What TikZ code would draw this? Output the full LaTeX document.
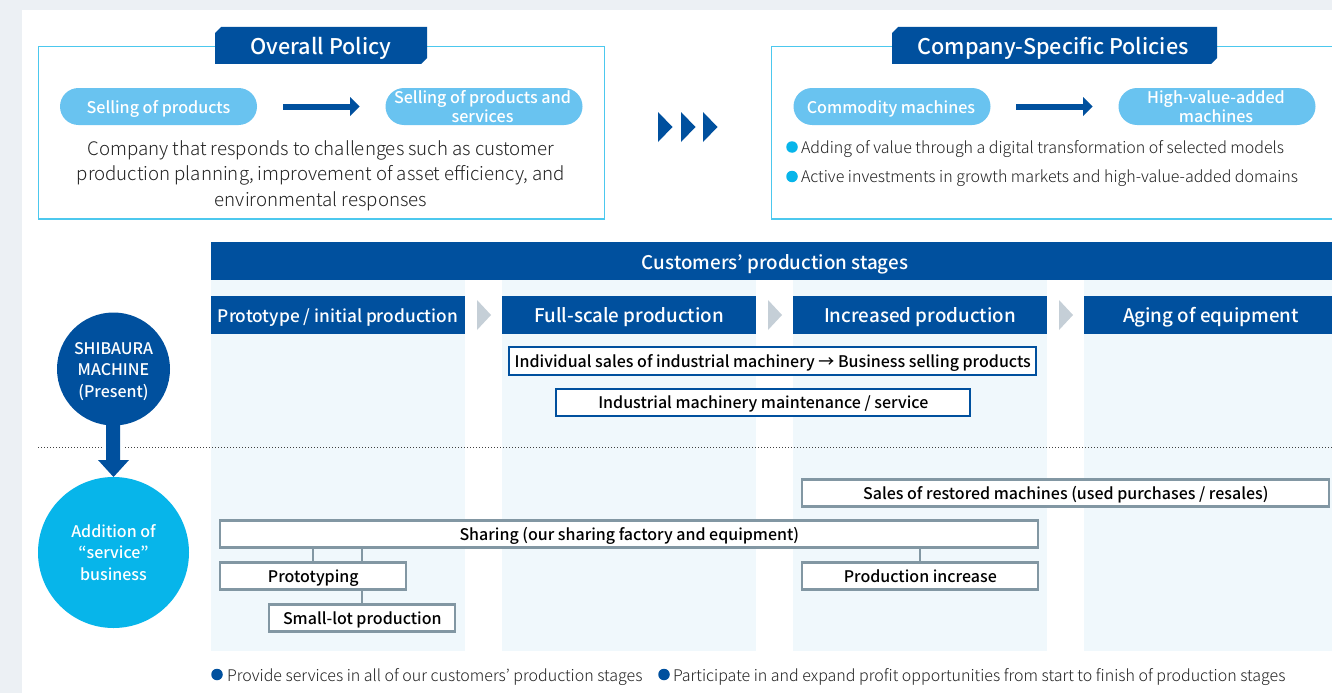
\documentclass[tikz,border=0pt]{standalone}
\usepackage{fontspec}
\setmainfont{Noto Sans CJK JP Light}
\newfontfamily\med{Noto Sans CJK JP Medium}
\usetikzlibrary{calc}
\definecolor{navy}{HTML}{00509E}
\definecolor{cyanb}{HTML}{4CC8EE}
\definecolor{pill}{HTML}{69C3F0}
\definecolor{pagebg}{HTML}{ECF0F4}
\definecolor{colbg}{HTML}{F0F8FC}
\definecolor{tri}{HTML}{C5CFD7}
\definecolor{svc}{HTML}{07B5EA}
\definecolor{greyb}{HTML}{8297A3}
\definecolor{ink}{HTML}{222222}
\tikzset{
 every node/.style={inner sep=0pt,outer sep=0pt},
 framebox/.style={draw=cyanb,line width=1.5pt,fill=white},
 tabshape/.style={fill=navy},
 tabtext/.style={text=white,text height=17.5pt,text depth=0pt,font=\fontsize{21.6}{25}\selectfont\med},
 pillbox/.style={fill=pill,rounded corners=18.5pt,minimum width=197pt,minimum height=37pt,text=white,align=center,font=\fontsize{16.1}{19}\selectfont\med},
 pillone/.style={pillbox,text height=14pt,text depth=0pt},
 flow/.style={draw=navy,line width=6pt},
 flowhead/.style={fill=navy},
 body/.style={text=ink,align=center,font=\fontsize{18.65}{25.5}\selectfont},
 note/.style={text=ink,anchor=west,text height=12pt,text depth=0pt,font=\fontsize{16}{19}\selectfont},
 dot/.style={circle,minimum size=11.5pt},
 colhead/.style={fill=navy,text=white,minimum width=254pt,minimum height=38pt,text height=15.5pt,text depth=0pt,font=\fontsize{18.8}{22}\selectfont\med},
 bluebox/.style={draw=navy,line width=2pt,fill=white,text=black,text height=12pt,text depth=0pt,font=\fontsize{16}{19}\selectfont\med},
 greybox/.style={draw=greyb,line width=2.3pt,fill=white,text=black,text height=12pt,text depth=0pt,font=\fontsize{16}{19}\selectfont\med},
 link/.style={draw=greyb,line width=2.3pt},
 bubble/.style={circle},
 bubbletext/.style={text=white,align=center,font=\fontsize{16}{21.5}\selectfont\med},
}
\begin{document}
\begin{tikzpicture}[x=1pt,y=-1pt]
\useasboundingbox (0,0) rectangle (1332,693);
\fill[pagebg] (0,0) rectangle (1332,693);
\fill[white] (22,10) rectangle (1332,693);
% top frames
\draw[framebox] (38.5,46.5) rectangle (604.5,219);
\draw[framebox] (1340,46.5) -- (771.5,46.5) -- (771.5,219) -- (1340,219);
\fill[tabshape] (221,27) -- (427,27) -- (427,58) -- (421,64) -- (215,64) -- (215,33) -- cycle;
\node[tabtext] (overall) at (321,46) {Overall Policy};
\fill[tabshape] (898,27) -- (1217,27) -- (1217,58) -- (1211,64) -- (892,64) -- (892,33) -- cycle;
\node[tabtext] (specific) at (1053,46) {Company-Specific Policies};
% pills
\node[pillone] (p1) at (158.5,106.5) {Selling of products};
\node[pillbox] (p2) at (484,106.5) {\hspace*{-3pt}Selling of products and\\\hspace*{-3pt}services};
\node[pillone] (p3) at (892,106.5) {\hspace*{-2pt}Commodity machines};
\node[pillbox] (p4) at (1217,106.5) {\hspace*{-2pt}High-value-added\\\hspace*{-2pt}machines};
\coordinate (a1s) at (283,106.5); \coordinate (a1e) at (350,106.5);
\draw[flow] (a1s) -- (a1e);
\fill[flowhead] (350,97) -- (359.5,106.5) -- (350,116) -- cycle;
\coordinate (a2s) at (1016,106.5); \coordinate (a2e) at (1083,106.5);
\draw[flow] (a2s) -- (a2e);
\fill[flowhead] (1083,97) -- (1092.5,106.5) -- (1083,116) -- cycle;
\node[body] (resp) at (321,175.5) {Company that responds to challenges such as customer\\production planning, improvement of asset efficiency, and\\environmental responses};
\node[dot,fill=svc] (d1) at (792,147) {};
\node[note] (n1) at (801,147) {Adding of value through a digital transformation of selected models};
\node[dot,fill=svc] (d2) at (792,176.5) {};
\node[note] (n2) at (801,176.5) {Active investments in growth markets and high-value-added domains};
% triple chevrons
\foreach \x in {658,681,703}{\fill[navy] (\x,112) -- (\x+14.5,127) -- (\x,142) -- cycle;}
% stages
\foreach \x in {211,502,793,1084}{\fill[colbg] (\x,280) rectangle (\x+254,651);}
\node[fill=navy,text=white,minimum width=1121pt,minimum height=38pt,text height=17.5pt,text depth=0pt,anchor=north west,font=\fontsize{18.8}{20}\selectfont\med] (banner) at (211,242) {\hspace{7pt}Customers’ production stages};
\node[colhead,anchor=north west,font=\fontsize{17.3}{22}\selectfont\med] (c1) at (211,296) {Prototype / initial production};
\node[colhead,anchor=north west] (c2) at (502,296) {Full-scale production};
\node[colhead,anchor=north west] (c3) at (793,296) {Increased production};
\node[colhead,anchor=north west] (c4) at (1084,296) {Aging of equipment};
\foreach \x in {477,768,1059}{\fill[tri] (\x,300) -- (\x+14,315) -- (\x,330) -- cycle;}
% divider
\draw[black!75,line width=1pt,dotted] (38,447) -- (1332,447);
% circles
\fill[white] (103,440) rectangle (123,454);
\fill[navy] (106,420) -- (120,420) -- (120,460) -- (129,460) -- (113.5,477) -- (98,460) -- (106,460) -- cycle;
\node[bubble,fill=navy,minimum size=113pt] (shib) at (113.5,369) {};
\node[bubbletext] (shibt) at (113.5,371.5) {SHIBAURA\\MACHINE\\(Present)};
\node[bubble,fill=svc,minimum size=151pt] (svc) at (113.5,552.5) {};
\node[bubbletext] (svct) at (113.5,552.5) {Addition of\\“service”\\business};
% boxes
\node[bluebox,minimum width=527pt,minimum height=28pt,text height=13pt] (b1) at (772.8,360.5) {Individual sales of industrial machinery → Business selling products};
\node[bluebox,minimum width=414pt,minimum height=27pt] (b2) at (763.3,402) {Industrial machinery maintenance / service};
\node[greybox,minimum width=527pt,minimum height=27pt] (b3) at (1065.8,493) {Sales of restored machines (used purchases / resales)};
\node[greybox,minimum width=818pt,minimum height=27pt] (share) at (629.3,534) {Sharing (our sharing factory and equipment)};
\node[greybox,minimum width=186pt,minimum height=27pt] (proto) at (313.3,576) {Prototyping};
\node[greybox,minimum width=186pt,minimum height=27pt] (small) at (362.3,618) {Small-lot production};
\node[greybox,minimum width=236pt,minimum height=27pt] (inc) at (920.3,576) {Production increase};
\draw[link] (proto.north) -- (proto.north |- share.south);
\draw[link] (small.north |- proto.north) -- (small.north |- share.south);
\draw[link] (small.north) -- (small.north |- proto.south);
\draw[link] (inc.north) -- (inc.north |- share.south);
% foot
\node[dot,fill=navy] (d3) at (217,674.5) {};
\node[note] (n3) at (227,675) {Provide services in all of our customers’ production stages};
\node[dot,fill=navy] (d4) at (664,674.5) {};
\node[note] (n4) at (673,675) {Participate in and expand profit opportunities from start to finish of production stages};
\end{tikzpicture}
\end{document}
